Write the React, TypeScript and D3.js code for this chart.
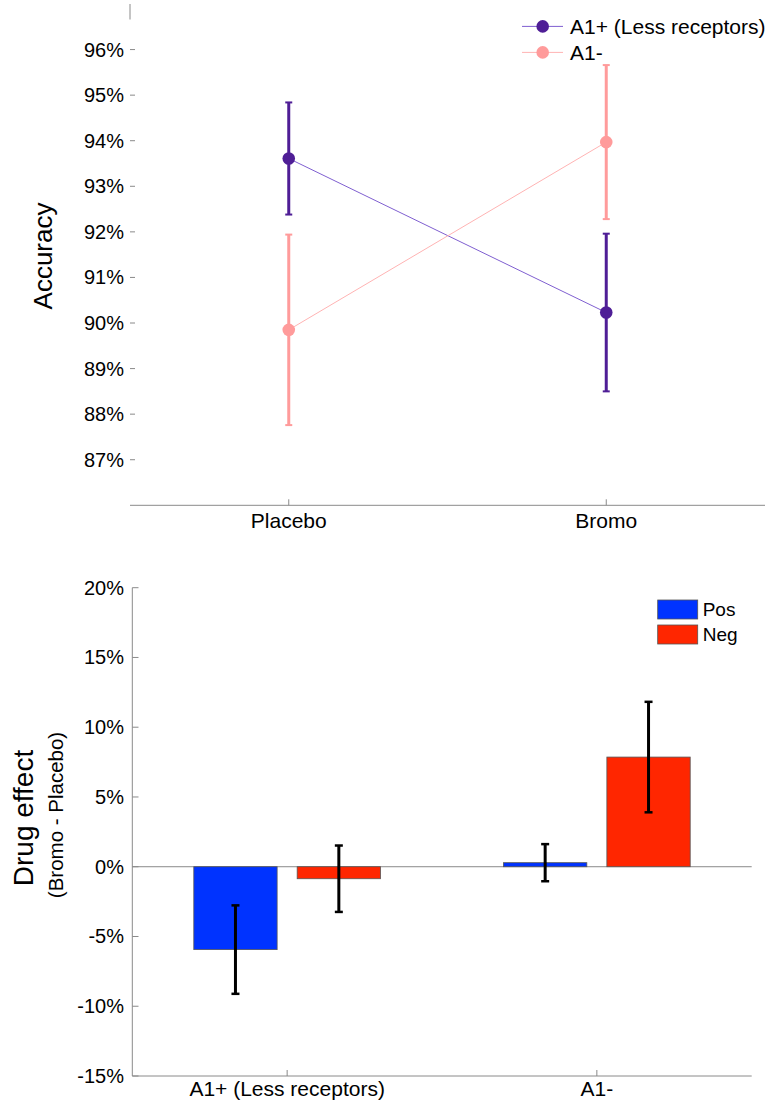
import React from 'react'
import * as d3 from 'd3'

// top panel: accuracy per session
const sessions = ['Placebo', 'Bromo']
const groupNames = ['A1+ (Less receptors)', 'A1-']
const a1PlusMean = [93.61, 90.23]
const a1PlusErr = [1.23, 1.73]
const a1MinusMean = [89.85, 93.97]
const a1MinusErr = [2.09, 1.69]
const accTicks = [87, 88, 89, 90, 91, 92, 93, 94, 95, 96]

// bottom panel: drug effect
const groups = ['A1+ (Less receptors)', 'A1-']
const kinds = ['Pos', 'Neg']
const posEffect = [-5.94, 0.29]
const posErr = [3.17, 1.33]
const negEffect = [-0.86, 7.86]
const negErr = [2.38, 3.96]
const effectTicks = [-15, -10, -5, 0, 5, 10, 15, 20]

const FONT = '"Liberation Sans", Arial, Helvetica, sans-serif'
const AXIS = '#8a8a8a'
const PURPLE = '#4f1e96'
const PURPLE_LINE = '#7f5fd0'
const PINK = '#ff9b9b'
const PINK_LINE = '#ffb3b3'
const BLUE = '#0033ff'
const RED = '#ff2600'

const TopChart = () => {
  const x = d3.scalePoint<string>().domain(sessions).range([130, 765]).padding(0.5)
  const y = d3.scaleLinear().domain([86, 97]).range([505.3, 4])
  const series = [
    { name: groupNames[0], mean: a1PlusMean, err: a1PlusErr, color: PURPLE, line: PURPLE_LINE },
    { name: groupNames[1], mean: a1MinusMean, err: a1MinusErr, color: PINK, line: PINK_LINE },
  ]
  const line = d3
    .line<number>()
    .x((_, i) => x(sessions[i]) as number)
    .y((d) => y(d))

  return (
    <g>
      {/* y axis stub + ticks */}
      <line x1={130} x2={130} y1={y(97)} y2={y(96.66)} stroke={AXIS} />
      {accTicks.map((t) => (
        <g key={t}>
          <line x1={130} x2={135} y1={y(t)} y2={y(t)} stroke={AXIS} />
          <text x={124} y={y(t)} dy="0.35em" textAnchor="end" fontSize={20} fontFamily={FONT}>
            {t}%
          </text>
        </g>
      ))}
      <text transform={`translate(52,256) rotate(-90)`} textAnchor="middle" fontSize={26} fontFamily={FONT}>
        Accuracy
      </text>
      {/* x axis */}
      <line x1={130} x2={765} y1={y(86)} y2={y(86)} stroke={AXIS} />
      {sessions.map((s) => (
        <g key={s}>
          <line x1={x(s)} x2={x(s)} y1={y(86) - 6} y2={y(86)} stroke={AXIS} />
          <text x={x(s)} y={528} textAnchor="middle" fontSize={21} fontFamily={FONT}>
            {s}
          </text>
        </g>
      ))}
      {/* series */}
      {series.map((s) => (
        <g key={s.name}>
          <path d={line(s.mean) || ''} fill="none" stroke={s.line} strokeWidth={1} />
          {s.mean.map((m, i) => {
            const cx = x(sessions[i]) as number
            return (
              <g key={i}>
                <line x1={cx} x2={cx} y1={y(m - s.err[i])} y2={y(m + s.err[i])} stroke={s.color} strokeWidth={3} />
                <line x1={cx - 3.5} x2={cx + 3.5} y1={y(m - s.err[i])} y2={y(m - s.err[i])} stroke={s.color} strokeWidth={2} />
                <line x1={cx - 3.5} x2={cx + 3.5} y1={y(m + s.err[i])} y2={y(m + s.err[i])} stroke={s.color} strokeWidth={2} />
                <circle cx={cx} cy={y(m)} r={6.3} fill={s.color} />
              </g>
            )
          })}
        </g>
      ))}
      {/* legend */}
      {series.map((s, i) => (
        <g key={s.name} transform={`translate(0,${26.4 + i * 26})`}>
          <line x1={522} x2={563} y1={0} y2={0} stroke={s.line} strokeWidth={1} />
          <circle cx={542.7} cy={0} r={6.3} fill={s.color} />
          <text x={570} y={0} dy="0.35em" fontSize={21} fontFamily={FONT}>
            {s.name}
          </text>
        </g>
      ))}
    </g>
  )
}

const BottomChart = () => {
  const x0 = d3.scaleBand<string>().domain(groups).range([132.3, 751.7]).padding(0)
  const x1 = d3
    .scaleBand<string>()
    .domain(kinds)
    .range([0, x0.bandwidth()])
    .paddingInner(0.194)
    .paddingOuter(0.595)
  const y = d3.scaleLinear().domain([-15, 20]).range([1076, 587.7])
  const values: Record<string, number[]> = { Pos: posEffect, Neg: negEffect }
  const errs: Record<string, number[]> = { Pos: posErr, Neg: negErr }
  const colors: Record<string, string> = { Pos: BLUE, Neg: RED }

  return (
    <g>
      {/* y axis */}
      <line x1={132.3} x2={132.3} y1={y(20)} y2={y(-15)} stroke={AXIS} />
      {effectTicks.map((t) => (
        <g key={t}>
          <line x1={132.3} x2={138.5} y1={y(t)} y2={y(t)} stroke={AXIS} />
          <text x={124} y={y(t)} dy="0.35em" textAnchor="end" fontSize={20} fontFamily={FONT}>
            {t}%
          </text>
        </g>
      ))}
      <text transform={`translate(33,818) rotate(-90)`} textAnchor="middle" fontSize={28} fontFamily={FONT}>
        Drug effect
      </text>
      <text transform={`translate(63,815) rotate(-90)`} textAnchor="middle" fontSize={20.5} fontFamily={FONT}>
        (Bromo - Placebo)
      </text>
      {/* zero line */}
      <line x1={132.3} x2={751.7} y1={y(0)} y2={y(0)} stroke={AXIS} />
      {/* bars */}
      {groups.map((g, gi) => (
        <g key={g} transform={`translate(${x0(g)},0)`}>
          {kinds.map((k) => {
            const v = values[k][gi]
            const e = errs[k][gi]
            const bx = x1(k) as number
            const cx = bx + x1.bandwidth() / 2
            return (
              <g key={k}>
                <rect
                  x={bx}
                  y={y(Math.max(0, v))}
                  width={x1.bandwidth()}
                  height={Math.abs(y(v) - y(0))}
                  fill={colors[k]}
                  stroke="#555"
                  strokeWidth={0.8}
                />
                <line x1={cx} x2={cx} y1={y(v - e)} y2={y(v + e)} stroke="#000" strokeWidth={3} />
                <line x1={cx - 4} x2={cx + 4} y1={y(v - e)} y2={y(v - e)} stroke="#000" strokeWidth={2.5} />
                <line x1={cx - 4} x2={cx + 4} y1={y(v + e)} y2={y(v + e)} stroke="#000" strokeWidth={2.5} />
              </g>
            )
          })}
        </g>
      ))}
      {/* x axis */}
      <line x1={132.3} x2={751.7} y1={y(-15)} y2={y(-15)} stroke={AXIS} />
      {groups.map((g) => {
        const cx = (x0(g) as number) + x0.bandwidth() / 2
        return (
          <g key={g}>
            <line x1={cx} x2={cx} y1={y(-15) - 6} y2={y(-15)} stroke={AXIS} />
            <text x={cx} y={1096} textAnchor="middle" fontSize={21} fontFamily={FONT}>
              {g}
            </text>
          </g>
        )
      })}
      {/* legend */}
      {kinds.map((k, i) => (
        <g key={k} transform={`translate(657.7,${600 + i * 25})`}>
          <rect width={40} height={19} fill={colors[k]} stroke="#555" strokeWidth={0.8} />
          <text x={45} y={9.5} dy="0.35em" fontSize={19} fontFamily={FONT}>
            {k}
          </text>
        </g>
      ))}
    </g>
  )
}

const App = () => {
  return (
    <svg width={775} height={1103} style={{ position: 'absolute', left: 0, top: 0, background: '#fff' }}>
      <TopChart />
      <BottomChart />
    </svg>
  )
}

export default App
